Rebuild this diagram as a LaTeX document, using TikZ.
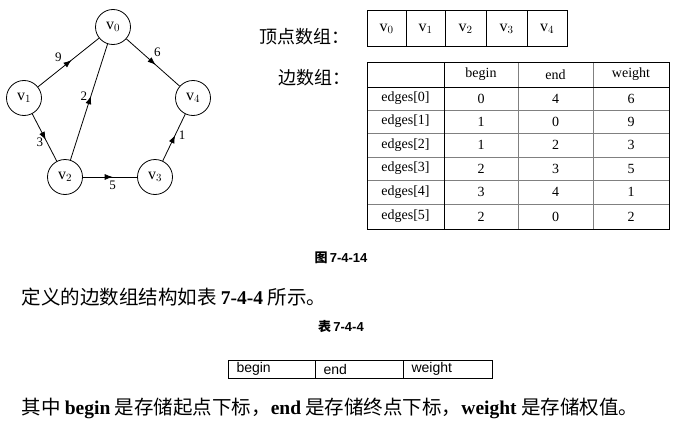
\documentclass[tikz,border=0pt]{standalone}
\usepackage{fontspec}
\setmainfont{Liberation Serif}
\newfontfamily\cjk{Noto Sans CJK SC}
\newfontfamily\sansf{Liberation Sans}
\usetikzlibrary{decorations.markings,arrows.meta}
\tikzset{
  vert/.style={circle,draw,thick,minimum size=35pt,inner sep=0pt,font=\fontsize{16}{16}\selectfont},
  edg/.style={thick,decoration={markings,mark=at position 0.55 with {\arrow{Latex[length=8pt,width=6pt]}}},postaction={decorate}},
  wl/.style={font=\fontsize{13}{13}\selectfont},
  cell/.style={font=\fontsize{14}{14}\selectfont},
}
\begin{document}
\begin{tikzpicture}[x=1pt,y=-1pt]
\useasboundingbox (0,0) rectangle (678,423);
\node[vert] (v0) at (113,27) {v$_0$};
\node[vert] (v1) at (24,98) {v$_1$};
\node[vert] (v4) at (193,98) {v$_4$};
\node[vert] (v2) at (65,177) {v$_2$};
\node[vert] (v3) at (155,177) {v$_3$};
\draw[edg] (v1) -- node[wl,above left,pos=0.45] {9} (v0);
\draw[edg] (v0) -- node[wl,above right,pos=0.45] {6} (v4);
\draw[edg] (v1) -- node[wl,left,pos=0.6] {3} (v2);
\draw[edg] (v2) -- node[wl,left,pos=0.55] {2} (v0);
\draw[edg] (v2) -- node[wl,below,pos=0.55] {5} (v3);
\draw[edg] (v3) -- node[wl,right,pos=0.55] {1} (v4);
% vertex array
\node[font=\cjk\fontsize{18}{18}\selectfont] (la) at (304,37) {顶点数组：};
\draw[thick] (367,10) rectangle (567,46);
\foreach \x in {406,445,486,527} \draw[thick] (\x,10) -- (\x,46);
\foreach \x/\t in {386.5/0,425.5/1,465.5/2,506.5/3,547/4}
  \node[font=\fontsize{16}{16}\selectfont] (va\t) at (\x,29) {v$_\t$};
% edge array
\node[font=\cjk\fontsize{18}{18}\selectfont] (lb) at (314,78) {边数组：};
\foreach \y in {110,133,157,180,204} \draw[gray] (367,\y) -- (669,\y);
\foreach \x in {518,593} \draw[gray] (\x,62) -- (\x,229);
\draw[thick] (367,87) -- (669,87);
\draw[thick] (444,62) -- (444,229);
\draw[thick] (367,62) rectangle (669,229);
\foreach \x/\t in {481/begin,555.5/end,631/weight}
  \node[cell] (h\t) at (\x,74.5) {\t};
\foreach \i/\b/\e/\w/\y in {0/0/4/6/98.5,1/1/0/9/121.5,2/1/2/3/145,3/2/3/5/168.5,4/3/4/1/192,5/2/0/2/216.5}{
  \node[cell] (r\i) at (405.5,\y) {edges[\i]};
  \node[cell] (b\i) at (481,\y) {\b};
  \node[cell] (e\i) at (555.5,\y) {\e};
  \node[cell] (w\i) at (631,\y) {\w};
}
% captions and text
\node[font=\sansf\bfseries\fontsize{13}{13}\selectfont] (cap1) at (341,258) {{\cjk 图}\,7-4-14};
\node[anchor=west,font=\cjk\fontsize{19.5}{20}\selectfont] (t1) at (18,297) {定义的边数组结构如表 {\rmfamily\bfseries 7-4-4} 所示。};
\node[font=\sansf\bfseries\fontsize{13}{13}\selectfont] (cap2) at (341,327) {{\cjk 表}\,7-4-4};
\draw[thick] (228,360) rectangle (492,378);
\draw[thick] (315,360) -- (315,378);
\draw[thick] (403,360) -- (403,378);
\node[anchor=west,font=\sansf\fontsize{14}{14}\selectfont] (s1) at (233,369) {begin};
\node[anchor=west,font=\sansf\fontsize{14}{14}\selectfont] (s2) at (320,369) {end};
\node[anchor=west,font=\sansf\fontsize{14}{14}\selectfont] (s3) at (408,369) {weight};
\node[anchor=west,font=\cjk\fontsize{19.5}{20}\selectfont] (t2) at (18,408) {其中 {\rmfamily\bfseries begin} 是存储起点下标，{\rmfamily\bfseries end} 是存储终点下标，{\rmfamily\bfseries weight} 是存储权值。};
\end{tikzpicture}
\end{document}
